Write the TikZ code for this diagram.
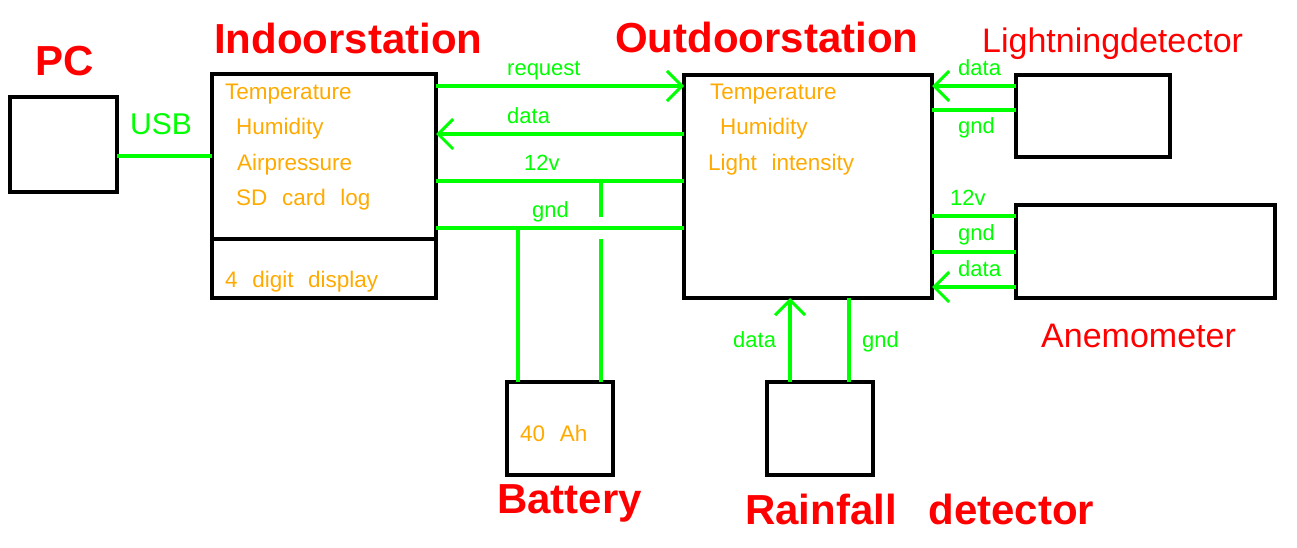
\documentclass[tikz,border=0pt]{standalone}
\usepackage{fontspec}
\setmainfont{Liberation Sans}
\usetikzlibrary{arrows.meta}

\definecolor{wiregreen}{RGB}{0,255,0}
\definecolor{titlered}{RGB}{255,0,0}
\definecolor{textorange}{RGB}{255,170,0}

\newcommand{\widegap}[1]{\spaceskip=#1em\relax}

\tikzset{
  box/.style={draw, line width=4pt, inner sep=0pt, outer sep=0pt},
  wire/.style={wiregreen, line width=3.6pt},
  arr/.style={-{Straight Barb[length=15pt,width=30pt,line width=3pt]}},
  bigtitle/.style={titlered, font=\fontsize{42}{42}\selectfont\bfseries\widegap{0.75}, inner sep=0pt, anchor=base west},
  devtitle/.style={titlered, font=\fontsize{34}{34}\selectfont, inner sep=0pt, anchor=base west},
  info/.style={textorange, font=\fontsize{22.5}{22.5}\selectfont\widegap{0.65}, inner sep=0pt, anchor=base west},
  sig/.style={wiregreen, font=\fontsize{22}{22}\selectfont, inner sep=0pt, anchor=base west},
}

\begin{document}
\begin{tikzpicture}[x=1pt,y=-1pt]
  \useasboundingbox (0,0) rectangle (1297,547);

  \node [box, minimum width=107pt, minimum height=95pt] (pc) at (63.5,144.5) {};
  \node [box, minimum width=224pt, minimum height=165pt] (indoor) at (324,156.5) {};
  \node [box, minimum width=224pt, minimum height=59pt] (display) at (324,268.5) {};
  \node [box, minimum width=248pt, minimum height=223pt] (outdoor) at (808,186.5) {};
  \node [box, minimum width=106pt, minimum height=93pt] (battery) at (560,428.5) {};
  \node [box, minimum width=106pt, minimum height=93pt] (rain) at (820,428.5) {};
  \node [box, minimum width=154pt, minimum height=82pt] (light) at (1093,116) {};
  \node [box, minimum width=259pt, minimum height=93pt] (anemo) at (1145.5,251.5) {};

  \node [bigtitle] (pcname) at (35,75) {PC};
  \node [bigtitle] (indoorname) at (214,53) {Indoorstation};
  \node [bigtitle] (outdoorname) at (615,52) {Outdoorstation};
  \node [bigtitle] (batteryname) at (497,513) {Battery};
  \node [bigtitle] (rainname) at (745,524) {Rainfall detector};
  \node [devtitle] (lightname) at (982,52) {Lightningdetector};
  \node [devtitle] (anemoname) at (1041,347) {Anemometer};

  \node [info] (intemp) at (225,99) {Temperature};
  \node [info] (inhum) at (236,134) {Humidity};
  \node [info] (inpress) at (237,170) {Airpressure};
  \node [info] (inlog) at (236,205) {SD card log};
  \node [info] (indisp) at (225,287) {4 digit display};
  \node [info] (outtemp) at (710,99) {Temperature};
  \node [info] (outhum) at (720,134) {Humidity};
  \node [info] (outlight) at (708,170) {Light intensity};
  \node [info] (cap) at (520,441) {40 Ah};

  \node [sig, font=\fontsize{30}{30}\selectfont] (usb) at (130,134) {USB};
  \node [sig] (reqlbl) at (507,75) {request};
  \node [sig] (datalbl) at (507,123) {data};
  \node [sig] (vlbl) at (524,170) {12v};
  \node [sig] (gndlbl) at (532,217) {gnd};
  \node [sig] (ldatalbl) at (958,75) {data};
  \node [sig] (lgndlbl) at (958,133) {gnd};
  \node [sig] (avlbl) at (950,205) {12v};
  \node [sig] (agndlbl) at (958,240) {gnd};
  \node [sig] (adatalbl) at (958,276) {data};
  \node [sig] (rdatalbl) at (733,347) {data};
  \node [sig] (rgndlbl) at (862,347) {gnd};

  \coordinate (vtap) at (601,181);
  \coordinate (hopa) at (601,217);
  \coordinate (hopb) at (601,239);
  \coordinate (gtap) at (518,228);

  \draw [wire] (pc.east |- 0,156) -- (indoor.west |- 0,156);
  \draw [wire, arr] (indoor.east |- 0,86) -- (outdoor.west |- 0,86);
  \draw [wire, arr] (outdoor.west |- 0,134) -- (indoor.east |- 0,134);
  \draw [wire] (indoor.east |- 0,181) -- (outdoor.west |- 0,181);
  \draw [wire] (indoor.east |- 0,228) -- (outdoor.west |- 0,228);
  \draw [wire] (vtap) -- (hopa);
  \draw [wire] (hopb) -- (hopb |- battery.north);
  \draw [wire] (gtap) -- (gtap |- battery.north);

  \draw [wire, arr] (light.west |- 0,86) -- (outdoor.east |- 0,86);
  \draw [wire] (light.west |- 0,110) -- (outdoor.east |- 0,110);
  \draw [wire] (anemo.west |- 0,216) -- (outdoor.east |- 0,216);
  \draw [wire] (anemo.west |- 0,252) -- (outdoor.east |- 0,252);
  \draw [wire, arr] (anemo.west |- 0,287) -- (outdoor.east |- 0,287);

  \draw [wire, arr] (rain.north -| 790,0) -- (outdoor.south -| 790,0);
  \draw [wire] (rain.north -| 849,0) -- (outdoor.south -| 849,0);
\end{tikzpicture}
\end{document}
